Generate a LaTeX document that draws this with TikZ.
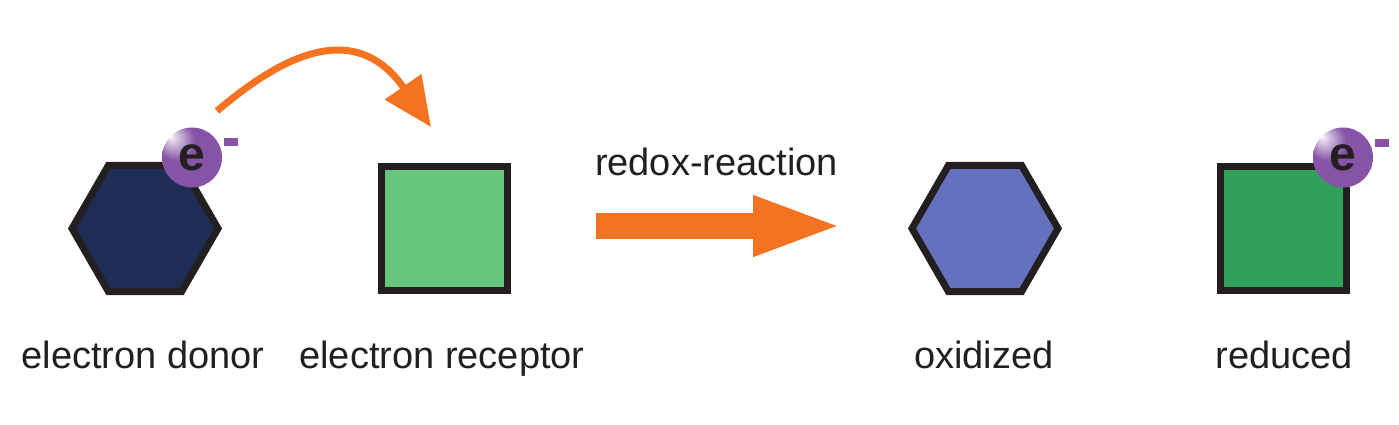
\documentclass[tikz,border=0pt]{standalone}
\usepackage{fontspec}
\setmainfont{Liberation Sans}
\usetikzlibrary{shapes.geometric,arrows.meta}
\definecolor{edge}{HTML}{231F20}
\definecolor{navy}{HTML}{1E2D55}
\definecolor{lgreen}{HTML}{66C87D}
\definecolor{vblue}{HTML}{6571BF}
\definecolor{dgreen}{HTML}{2FA15A}
\definecolor{orng}{HTML}{F37321}
\definecolor{ballpurple}{HTML}{8653A6}
\pgfdeclareradialshading{eball}{\pgfpoint{-18bp}{18bp}}{color(0bp)=(white); color(4bp)=(white!70!ballpurple); color(16bp)=(ballpurple); color(60bp)=(ballpurple)}
\tikzset{
  hexa/.style={regular polygon, regular polygon sides=6, minimum size=73pt, inner sep=0pt, draw=edge, line width=3.5pt, line join=miter},
  sqbox/.style={rectangle, minimum width=63pt, minimum height=62pt, inner sep=0pt, draw=edge, line width=3.5pt},
  electron/.style={circle, minimum size=30pt, inner sep=0pt, shading=eball, text=edge, font=\fontsize{24pt}{24pt}\selectfont\bfseries},
  minusbar/.style={rectangle, fill=ballpurple, minimum width=7pt, minimum height=4pt, inner sep=0pt},
  lbl/.style={anchor=base, text=edge, inner sep=0pt, font=\fontsize{19pt}{19pt}\selectfont},
  transfer/.style={draw=orng, line width=3.5pt, -{Triangle[length=24.5pt,width=21.5pt]}},
  bigarrow/.style={draw=orng, line width=13pt, -{Triangle[length=45.5pt,width=27pt]}}
}
\begin{document}
\begin{tikzpicture}[x=0.5pt,y=-0.5pt]
\useasboundingbox (0,0) rectangle (1399,424);
% shapes
\node[hexa, fill=navy] (donor) at (145,228.5) {};
\node[sqbox, fill=lgreen] (receptor) at (444.5,228.5) {};
\node[hexa, fill=vblue] (oxid) at (985,228.5) {};
\node[sqbox, fill=dgreen] (reduc) at (1283,228.5) {};
% electrons
\node[electron] (e1) at (192,157.5) {e};
\node[minusbar] (m1) at (231,142) {};
\node[electron] (e2) at (1343,157.5) {e};
\node[minusbar] (m2) at (1382,143) {};
% curved transfer arrow
\coordinate (t1) at (217,111);
\coordinate (t2) at (431,127);
\draw[transfer] (t1) .. controls (270,66) and (351,12) .. (t2);
% reaction arrow
\coordinate (r1) at (596,226);
\coordinate (r2) at (844,226);
\draw[bigarrow] (r1) -- (r2);
% labels
\node[lbl] (lr) at (716.5,175) {redox-reaction};
\node[lbl] (l1) at (143,368) {electron donor};
\node[lbl] (l2) at (442,368) {electron receptor};
\node[lbl] (l3) at (984,368) {oxidized};
\node[lbl] (l4) at (1284,368) {reduced};
\end{tikzpicture}
\end{document}
